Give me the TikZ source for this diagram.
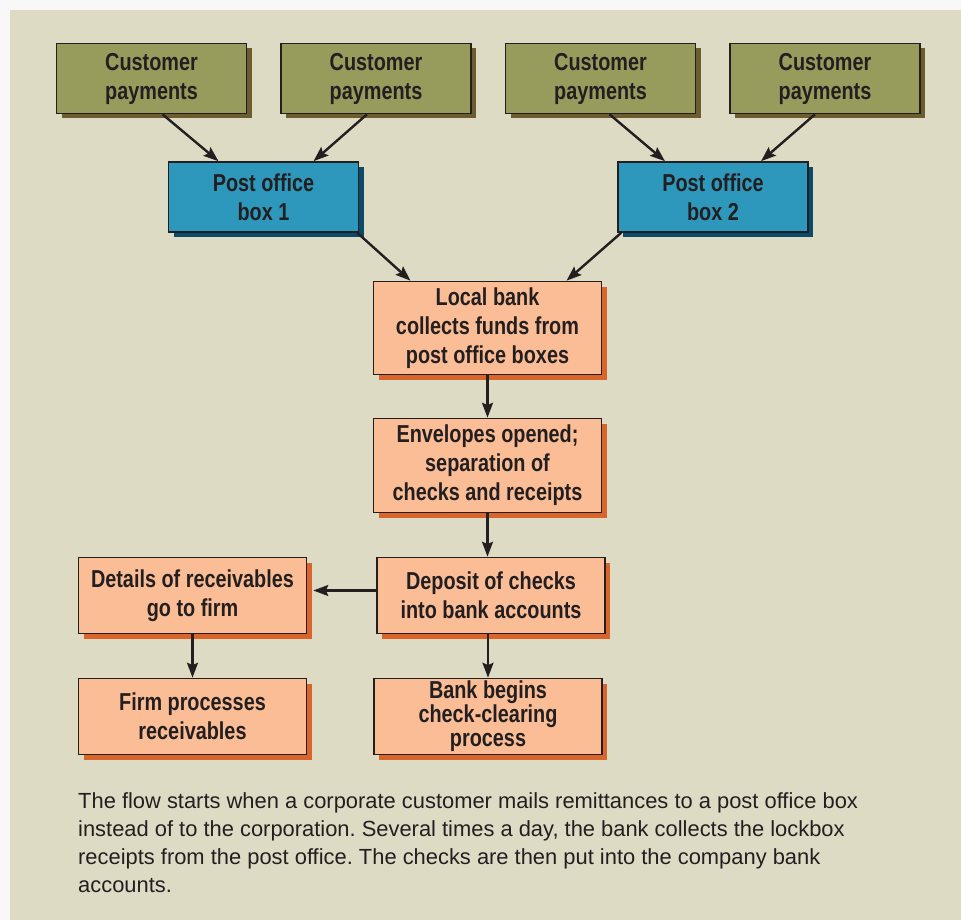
\documentclass[tikz,border=0pt]{standalone}
\usepackage{fontspec}
\setmainfont{Liberation Sans}
\newfontfamily\boxfont{Liberation Sans}[FakeStretch=0.81]
\usetikzlibrary{arrows.meta,shadows}

\definecolor{ink}{HTML}{231F20}
\definecolor{paper}{HTML}{F8F8F8}
\definecolor{panel}{HTML}{DEDBC5}
\definecolor{custfill}{HTML}{979B5C}
\definecolor{custshade}{HTML}{6B5D2F}
\definecolor{pofill}{HTML}{2E97BC}
\definecolor{poshade}{HTML}{0B4A6B}
\definecolor{stagefill}{HTML}{FBBD95}
\definecolor{stageshade}{HTML}{D9652B}

\begin{document}
\frenchspacing
\begin{tikzpicture}[
    x=1pt, y=-1pt,
    box/.style={draw=ink, line width=1.6pt, text=ink, align=center,
                font=\boxfont\bfseries\fontsize{24.5}{29}\selectfont,
                minimum width=190pt, minimum height=70pt, inner sep=2pt},
    cust/.style={box, fill=custfill,
                 drop shadow={shadow xshift=5pt, shadow yshift=-5pt,
                              fill=custshade, opacity=1}},
    pobox/.style={box, fill=pofill,
                  drop shadow={shadow xshift=5pt, shadow yshift=-5pt,
                               fill=poshade, opacity=1}},
    stage/.style={box, fill=stagefill, minimum width=228pt,
                  drop shadow={shadow xshift=5pt, shadow yshift=-5pt,
                               fill=stageshade, opacity=1}},
    flow/.style={draw=ink, line width=2.4pt,
                 -{Stealth[length=15pt, width=11pt, inset=2.5pt]}},
    caption/.style={text=ink, align=left, inner sep=0pt,
                    font=\fontsize{21.9}{28.3}\selectfont}
]

% ---------- background ----------
\useasboundingbox (0,0) rectangle (961,920);
\fill[paper] (0,0) rectangle (961,920);
\fill[panel] (10,10) rectangle (961,920);

% ---------- customers ----------
\node[cust] (c1) at (151.5,78.5) {Customer\\payments};
\node[cust] (c2) at (376,78.5)   {Customer\\payments};
\node[cust] (c3) at (600.5,78.5) {Customer\\payments};
\node[cust] (c4) at (825,78.5)   {Customer\\payments};

% ---------- post office boxes ----------
\node[pobox] (po1) at (263.5,197) {Post office\\box 1};
\node[pobox] (po2) at (713,197)   {Post office\\box 2};

% ---------- bank side ----------
\node[stage, minimum height=93pt] (bank) at (487.5,328)
  {Local bank\\collects funds from\\post office boxes};
\node[stage, minimum height=94pt] (env) at (487.5,465.5)
  {Envelopes opened;\\separation of\\checks and receipts};
\node[stage, minimum height=76pt] (dep) at (491,595.5)
  {Deposit of checks\\into bank accounts};
\node[stage, minimum height=76pt,
      font=\boxfont\bfseries\fontsize{24.5}{24}\selectfont] (clear) at (488,716.5)
  {Bank begins\\check-clearing\\process};

% ---------- firm side ----------
\node[stage, minimum height=76pt] (det) at (192.5,595.5)
  {Details of receivables\\go to firm};
\node[stage, minimum height=76pt] (firm) at (192.5,716.5)
  {Firm processes\\receivables};

% ---------- mail flow ----------
\draw[flow] ([xshift=11pt]c1.south) -- ([xshift=-45pt]po1.north);
\draw[flow] ([xshift=-9pt]c2.south) -- ([xshift=50pt]po1.north);
\draw[flow] ([xshift=9pt]c3.south)  -- ([xshift=-48pt]po2.north);
\draw[flow] ([xshift=-10pt]c4.south) -- ([xshift=48pt]po2.north);
\draw[flow] ([xshift=-2pt]po1.south east) -- ([xshift=-77pt]bank.north);
\draw[flow] ([xshift=4pt]po2.south west)  -- ([xshift=79pt]bank.north);

% ---------- processing ----------
\draw[flow] (bank.south) -- (env.north);
\draw[flow] (env.south) -- (env.south |- dep.north);
\draw[flow] (clear.north |- dep.south) -- (clear.north);
\draw[flow] ([yshift=5pt]dep.west) -- ([yshift=5pt, xshift=6pt]det.east);
\draw[flow] (det.south) -- (firm.north);

% ---------- caption ----------
\node[caption, anchor=north west] (note) at (78,792)
  {The flow starts when a corporate customer mails remittances to a post office box\\
   instead of to the corporation. Several times a day, the bank collects the lockbox\\
   receipts from the post office. The checks are then put into the company bank\\
   accounts.};

\end{tikzpicture}
\end{document}
